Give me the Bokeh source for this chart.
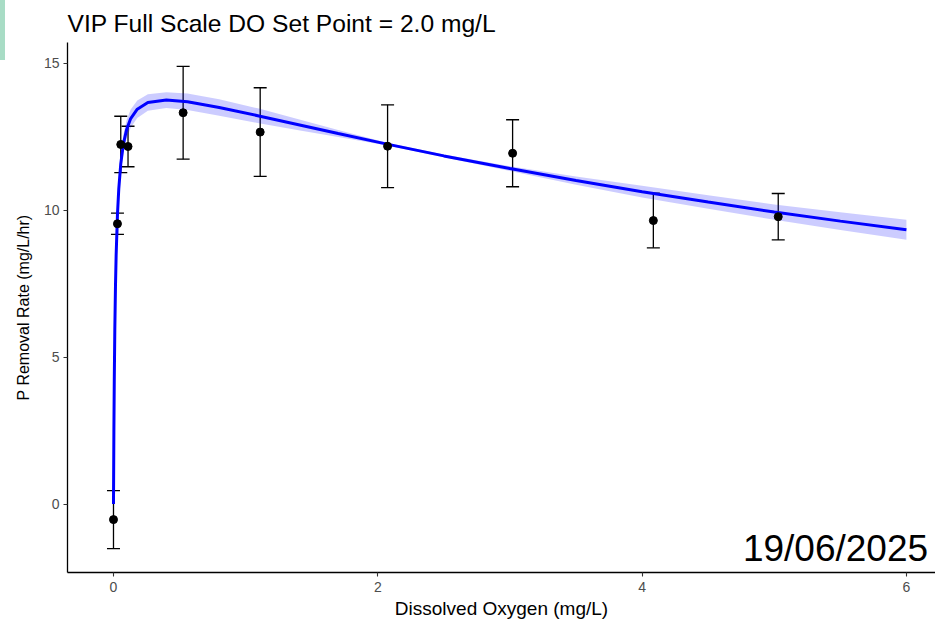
from bokeh.plotting import figure
from bokeh.models import (ColumnDataSource, Whisker, TeeHead, Label, Range1d,
                          FixedTicker, Div)
from bokeh.layouts import row
from bokeh.embed import file_html
from bokeh.resources import INLINE

# ---- data ----
do_obs = [0.0, 0.03, 0.055, 0.11, 0.527, 1.11, 2.074, 3.02, 4.085, 5.03]
rate_obs = [-0.53, 9.54, 12.24, 12.17, 13.32, 12.66, 12.18, 11.94, 9.65, 9.78]
rate_sd = [0.99, 0.36, 0.96, 0.69, 1.58, 1.51, 1.41, 1.14, 0.93, 0.79]

fit_x = [0.0, 0.003, 0.006, 0.010, 0.015, 0.020, 0.030, 0.040, 0.055, 0.075,
         0.100, 0.130, 0.180, 0.260, 0.400, 0.560, 0.800, 1.100, 1.400, 1.700,
         2.070, 2.500, 3.000, 3.500, 4.000, 4.500, 5.000, 5.500, 6.000]
fit_y = [0.0, 2.47, 4.23, 5.92, 7.40, 8.46, 9.85, 10.73, 11.58, 12.26,
         12.76, 13.12, 13.44, 13.67, 13.75, 13.69, 13.50, 13.21, 12.91, 12.61,
         12.25, 11.85, 11.42, 11.01, 10.63, 10.28, 9.94, 9.63, 9.34]
fit_lo = [-0.05, 2.37, 4.08, 5.72, 7.15, 8.18, 9.55, 10.41, 11.25, 11.93,
          12.44, 12.81, 13.14, 13.39, 13.48, 13.41, 13.22, 12.96, 12.72, 12.49,
          12.20, 11.80, 11.34, 10.87, 10.43, 10.05, 9.68, 9.33, 9.00]
fit_hi = [0.05, 2.57, 4.38, 6.12, 7.65, 8.74, 10.15, 11.05, 11.91, 12.59,
          13.08, 13.43, 13.74, 13.95, 14.02, 13.97, 13.78, 13.46, 13.10, 12.73,
          12.30, 11.90, 11.50, 11.15, 10.83, 10.51, 10.20, 9.93, 9.68]

x_ticks = [0, 2, 4, 6]
y_ticks = [0, 5, 10, 15]

title_text = "VIP Full Scale DO Set Point = 2.0 mg/L"
x_label = "Dissolved Oxygen (mg/L)"
y_label = "P Removal Rate (mg/L/hr)"
date_text = "19/06/2025"

FONT = "Liberation Sans"

obs = ColumnDataSource(dict(
    x=do_obs, y=rate_obs,
    upper=[r + s for r, s in zip(rate_obs, rate_sd)],
    lower=[r - s for r, s in zip(rate_obs, rate_sd)],
))
fit = ColumnDataSource(dict(x=fit_x, y=fit_y, lo=fit_lo, hi=fit_hi))

p = figure(width=930, height=623, output_backend="svg", toolbar_location=None,
           x_range=Range1d(-0.348, 6.22), y_range=Range1d(-2.33, 15.71),
           min_border_left=62, min_border_right=0, min_border_top=42,
           min_border_bottom=51)
p.margin = 0
p.title.text = title_text
p.title.text_font = FONT
p.title.text_font_size = "24.6px"
p.title.text_font_style = "normal"
p.title.text_color = "#000000"
p.title.offset = 0
p.title.standoff = 11

p.grid.visible = False
p.outline_line_color = None
p.background_fill_color = "white"
p.border_fill_color = "white"

p.varea(x="x", y1="lo", y2="hi", source=fit, fill_color="#0000ff", fill_alpha=0.2)
p.line(x="x", y="y", source=fit, line_color="#0000ff", line_width=3)

wh = Whisker(base="x", upper="upper", lower="lower", source=obs,
             line_color="black", line_width=1.3,
             upper_head=TeeHead(size=13, line_color="black", line_width=1.3),
             lower_head=TeeHead(size=13, line_color="black", line_width=1.3))
p.add_layout(wh)
p.scatter(x="x", y="y", source=obs, size=8, color="black")

for ax in (p.xaxis[0], p.yaxis[0]):
    ax.axis_line_color = "black"
    ax.axis_line_width = 1.3
    ax.major_tick_line_color = "#333333"
    ax.major_tick_line_width = 1.1
    ax.major_tick_out = 4
    ax.major_tick_in = 0
    ax.minor_tick_line_color = None
    ax.major_label_text_font = FONT
    ax.major_label_text_font_size = "14px"
    ax.major_label_text_color = "#4d4d4d"
    ax.axis_label_text_font = FONT
    ax.axis_label_text_font_style = "normal"
    ax.axis_label_text_color = "#000000"

p.xaxis[0].axis_label_text_font_size = "19px"
p.yaxis[0].axis_label_text_font_size = "16px"
p.xaxis[0].ticker = FixedTicker(ticks=x_ticks)
p.yaxis[0].ticker = FixedTicker(ticks=y_ticks)
p.xaxis[0].axis_label = x_label
p.yaxis[0].axis_label = y_label
p.xaxis[0].major_label_standoff = 5
p.xaxis[0].axis_label_standoff = 3
p.yaxis[0].major_label_standoff = 4
p.yaxis[0].axis_label_standoff = 9

p.add_layout(Label(x=6.164, y=-1.52, text=date_text, text_align="right",
                   text_baseline="alphabetic", text_font=FONT,
                   text_font_size="37px", text_color="black"))

bar = Div(text="", width=5, height=60, margin=0,
          styles={"background-color": "#a8dcc5"})
layout = row(bar, p)
layout.margin = 0
layout.spacing = 0

open("out.html", "w").write(file_html(layout, INLINE))
